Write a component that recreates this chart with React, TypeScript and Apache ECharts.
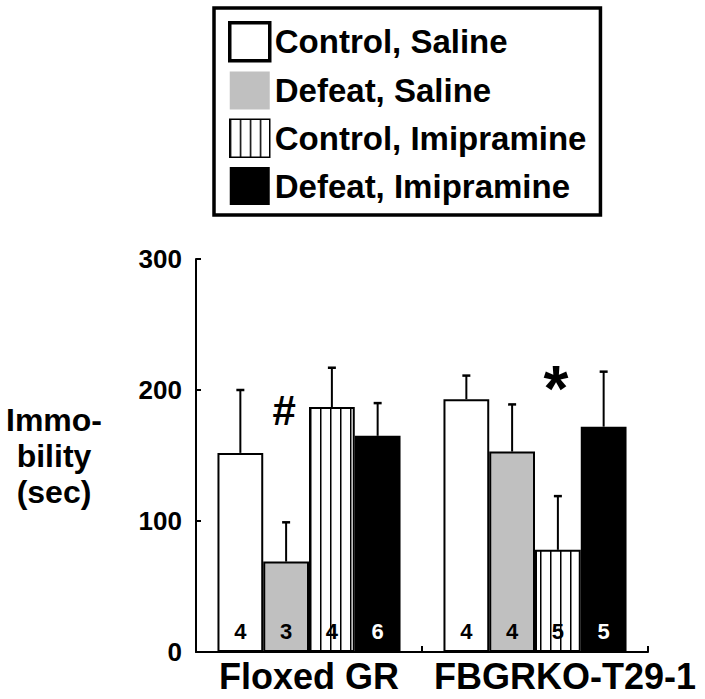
import React, { useEffect, useRef } from "react";
import * as echarts from "echarts";

const CATEGORIES = ["Floxed GR", "FBGRKO-T29-1"];
const SERIES_NAMES = ["Control, Saline", "Defeat, Saline", "Control, Imipramine", "Defeat, Imipramine"];
const CONTROL_SALINE = [152, 193];
const DEFEAT_SALINE = [69, 153];
const CONTROL_IMIPRAMINE = [187, 78];
const DEFEAT_IMIPRAMINE = [165, 172];
const SEM_CONTROL_SALINE = [48, 18];
const SEM_DEFEAT_SALINE = [30, 36];
const SEM_CONTROL_IMIPRAMINE = [30, 41];
const SEM_DEFEAT_IMIPRAMINE = [25, 42];
const N_CONTROL_SALINE = [4, 4];
const N_DEFEAT_SALINE = [3, 4];
const N_CONTROL_IMIPRAMINE = [4, 5];
const N_DEFEAT_IMIPRAMINE = [6, 5];
const Y_TICKS = [0, 100, 200, 300];
// significance marks: [category index, series index, symbol, level]
const MARKS: [number, number, string, number][] = [
  [0, 1, "#", 184],
  [1, 2, "*", 201],
];

const FONT = "'Liberation Sans', Arial, Helvetica, sans-serif";
const CAT_GAP = 0.19;

function makeHatch() {
  const c = document.createElement("canvas");
  c.width = 10;
  c.height = 10;
  const ctx = c.getContext("2d")!;
  ctx.fillStyle = "#fff";
  ctx.fillRect(0, 0, 10, 10);
  ctx.fillStyle = "#000";
  ctx.fillRect(0, 0, 1.5, 10);
  return { image: c, repeat: "repeat", imageWidth: 10, imageHeight: 10 } as any;
}

export default function App() {
  const ref = useRef<HTMLDivElement>(null);
  useEffect(() => {
    if (!ref.current) return;
    const chart = echarts.init(ref.current, undefined, { renderer: "svg" });
    const hatch = makeHatch();
    const values = [CONTROL_SALINE, DEFEAT_SALINE, CONTROL_IMIPRAMINE, DEFEAT_IMIPRAMINE];
    const sems = [SEM_CONTROL_SALINE, SEM_DEFEAT_SALINE, SEM_CONTROL_IMIPRAMINE, SEM_DEFEAT_IMIPRAMINE];
    const ns = [N_CONTROL_SALINE, N_DEFEAT_SALINE, N_CONTROL_IMIPRAMINE, N_DEFEAT_IMIPRAMINE];
    const fills: any[] = ["#ffffff", "#c0c0c0", hatch, "#000000"];
    const labelColors = ["#000", "#000", "#000", "#fff"];

    const barSeries = SERIES_NAMES.map((name, si) => ({
      name,
      type: "bar",
      data: values[si],
      barGap: "0%",
      barCategoryGap: CAT_GAP * 100 + "%",
      itemStyle: { color: fills[si], borderColor: "#000", borderWidth: 2 },
      label: {
        show: true,
        position: "insideBottom",
        distance: 10,
        formatter: (p: any) => String(ns[si][p.dataIndex]),
        color: labelColors[si],
        fontSize: 22,
        fontWeight: "bold",
        fontFamily: FONT,
      },
      z: 2,
    }));

    const errData: number[][] = [];
    values.forEach((arr, si) => arr.forEach((v, ci) => errData.push([ci, v, sems[si][ci], si])));

    const barCenter = (api: any, cat: number, si: number) => {
      const band = api.size([1, 0])[0];
      const groupW = band * (1 - CAT_GAP);
      const bw = groupW / 4;
      const center = api.coord([cat, 0])[0];
      return center - groupW / 2 + bw * (si + 0.5);
    };

    const option: any = {
      animation: false,
      backgroundColor: "#fff",
      textStyle: { fontFamily: FONT },
      legend: {
        left: 214,
        top: 8,
        orient: "vertical",
        padding: [13, 14, 10, 14],
        itemWidth: 40,
        itemHeight: 38,
        itemGap: 9,
        icon: "rect",
        borderColor: "#000",
        borderWidth: 3.5,
        selectedMode: false,
        textStyle: { fontSize: 33, fontWeight: "bold", color: "#000", fontFamily: FONT },
        data: [
          { name: SERIES_NAMES[0], itemStyle: { color: "#fff", borderColor: "#000", borderWidth: 3.5 } },
          { name: SERIES_NAMES[1], itemStyle: { color: "#c0c0c0", borderWidth: 0 } },
          { name: SERIES_NAMES[2], itemStyle: { color: hatch, borderColor: "#000", borderWidth: 1.5 } },
          { name: SERIES_NAMES[3], itemStyle: { color: "#000", borderWidth: 0 } },
        ],
      },
      grid: { left: 196, right: 57, top: 259, bottom: 47, containLabel: false },
      xAxis: {
        type: "category",
        data: CATEGORIES,
        axisLine: { lineStyle: { color: "#000", width: 2 } },
        axisTick: { show: true, inside: true, length: 6, lineStyle: { color: "#000", width: 2 } },
        axisLabel: {
          interval: 0,
          margin: 6,
          color: "#000",
          fontSize: 36,
          fontWeight: "bold",
          fontFamily: FONT,
          formatter: (v: string, i: number) => (i === 1 ? "{b|" + v + "}" : v),
          rich: { b: { fontSize: 36, fontWeight: "bold", fontFamily: FONT, color: "#000", padding: [0, 0, 0, 60] } },
        },
      },
      yAxis: {
        type: "value",
        min: Y_TICKS[0],
        max: Y_TICKS[Y_TICKS.length - 1],
        interval: Y_TICKS[1] - Y_TICKS[0],
        name: "Immo-\nbility\n(sec)",
        nameLocation: "middle",
        nameRotate: 0,
        nameGap: 142,
        nameTextStyle: {
          fontSize: 32,
          fontWeight: "bold",
          color: "#000",
          fontFamily: FONT,
          lineHeight: 36,
          align: "center",
          verticalAlign: "middle",
          padding: [0, 0, 12, 0],
        },
        splitLine: { show: false },
        axisLine: { show: true, lineStyle: { color: "#000", width: 2 } },
        axisTick: { show: true, inside: true, length: 5, lineStyle: { color: "#000", width: 2 } },
        axisLabel: { margin: 14, color: "#000", fontSize: 26, fontWeight: "bold", fontFamily: FONT },
      },
      series: [
        ...barSeries,
        {
          name: "err",
          type: "custom",
          data: errData,
          z: 3,
          silent: true,
          renderItem: (params: any, api: any) => {
            const cat = api.value(0);
            const val = api.value(1);
            const sem = api.value(2);
            const si = api.value(3);
            const x = barCenter(api, cat, si);
            const y1 = api.coord([cat, val])[1];
            const y2 = api.coord([cat, val + sem])[1];
            return {
              type: "group",
              children: [
                { type: "line", shape: { x1: x, y1, x2: x, y2 }, style: { stroke: "#000", lineWidth: 2 } },
                { type: "line", shape: { x1: x - 4, y1: y2, x2: x + 4, y2 }, style: { stroke: "#000", lineWidth: 2.5 } },
              ],
            };
          },
        },
        {
          name: "marks",
          type: "custom",
          data: MARKS.map((m) => [m[0], m[3], m[1]]),
          z: 4,
          silent: true,
          renderItem: (params: any, api: any) => {
            const m = MARKS[params.dataIndex];
            const cat = api.value(0);
            const lvl = api.value(1);
            const si = api.value(2);
            const x = barCenter(api, cat, si) - 2;
            const y = api.coord([cat, lvl])[1];
            return {
              type: "text",
              x,
              y,
              style: {
                text: m[2],
                fontSize: m[2] === "*" ? 64 : 42,
                fontWeight: "bold",
                fontFamily: FONT,
                fill: "#000",
                align: "center",
                verticalAlign: "middle",
              },
            };
          },
        },
      ],
    };
    chart.setOption(option);
    return () => chart.dispose();
  }, []);
  return <div ref={ref} style={{ position: "fixed", left: 0, top: 0, width: 705, height: 699 }} />;
}
